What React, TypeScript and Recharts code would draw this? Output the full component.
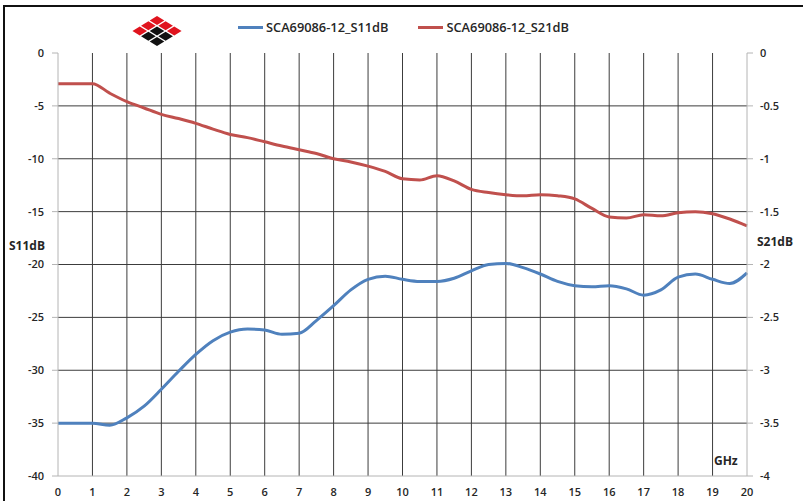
import { LineChart, Line, XAxis, YAxis, CartesianGrid } from 'recharts';

const COLORS = {
  s11: '#4F81BD',
  s21: '#C0504D',
  grid: '#3c3c3c',
  axis: '#b4b4b4',
  text: '#262626',
};

const FONT = '"Open Sans", "Liberation Sans", sans-serif';

// frequency in GHz
const freq = [
  0, 0.5, 1, 1.5, 2, 2.5, 3, 3.5, 4, 4.5, 5, 5.5, 6, 6.5, 7, 7.5, 8, 8.5, 9, 9.5, 10,
  10.5, 11, 11.5, 12, 12.5, 13, 13.5, 14, 14.5, 15, 15.5, 16, 16.5, 17, 17.5, 18, 18.5, 19, 19.5, 20,
];

// left axis, dB
const s11 = [
  -35.0, -35.0, -35.0, -35.2, -34.5, -33.4, -31.8, -30.1, -28.5, -27.2, -26.4, -26.1, -26.2, -26.6, -26.5,
  -25.3, -23.9, -22.4, -21.4, -21.1, -21.4, -21.6, -21.6, -21.3, -20.6, -20.0, -19.9, -20.3, -20.9, -21.6,
  -22.0, -22.1, -22.0, -22.3, -22.9, -22.4, -21.2, -20.9, -21.4, -21.8, -20.8,
];

// right axis, dB
const s21 = [
  -0.29, -0.29, -0.29, -0.38, -0.46, -0.52, -0.58, -0.62, -0.665, -0.72, -0.77, -0.8, -0.84, -0.88, -0.915,
  -0.95, -1.0, -1.03, -1.07, -1.12, -1.19, -1.2, -1.16, -1.21, -1.29, -1.32, -1.34, -1.35, -1.34, -1.35,
  -1.38, -1.47, -1.55, -1.56, -1.53, -1.54, -1.51, -1.5, -1.52, -1.57, -1.635,
];

const xTicks = [0, 1, 2, 3, 4, 5, 6, 7, 8, 9, 10, 11, 12, 13, 14, 15, 16, 17, 18, 19, 20];
const leftTicks = [0, -5, -10, -15, -20, -25, -30, -35, -40];
const rightTicks = [0, -0.5, -1, -1.5, -2, -2.5, -3, -3.5, -4];
const innerGrid = [-5, -10, -15, -20, -25, -30, -35];

const series = [
  { key: 's11', name: 'SCA69086-12_S11dB', color: COLORS.s11, axis: 'left' },
  { key: 's21', name: 'SCA69086-12_S21dB', color: COLORS.s21, axis: 'right' },
];

// logo: 3x3 tiles, rotated 45deg and squashed
const logoTiles = [
  ['r', 'r', 'r'],
  ['r', 'k', 'k'],
  ['r', 'k', 'k'],
];

const data = freq.map((f, i) => ({ f, s11: s11[i], s21: s21[i] }));

function Logo() {
  const s = 9;
  return (
    <svg width={50} height={32} style={{ position: 'absolute', left: 132, top: 15 }}>
      <g transform="translate(25,1) scale(1.15,0.7) rotate(45)">
        {logoTiles.map((row, r) =>
          row.map((c, k) => (
            <rect
              key={`${r}-${k}`}
              x={k * (s + 1.6)}
              y={r * (s + 1.6)}
              width={s}
              height={s}
              fill={c === 'r' ? '#e0141e' : '#111'}
            />
          ))
        )}
      </g>
    </svg>
  );
}

function ChartLegend() {
  return (
    <div style={{ position: 'absolute', left: 238, top: 18, display: 'flex', fontFamily: FONT, fontSize: 12.8, fontWeight: 600, color: COLORS.text }}>
      {series.map((s) => (
        <div key={s.key} style={{ display: 'flex', alignItems: 'center', marginRight: 30 }}>
          <span style={{ display: 'inline-block', width: 25, height: 3, background: s.color, marginRight: 3 }} />
          <span>{s.name}</span>
        </div>
      ))}
    </div>
  );
}

const axisLabel: React.CSSProperties = {
  position: 'absolute',
  fontFamily: FONT,
  fontSize: 12,
  fontWeight: 700,
  color: COLORS.text,
};

export default function App() {
  return (
    <div style={{ position: 'absolute', left: 0, top: 0, width: 803, height: 501, background: '#fff', overflow: 'hidden', fontFamily: FONT }}>
      <div style={{ position: 'absolute', left: 3, top: 5, right: -10, bottom: -10, borderTop: '2px solid #111', borderLeft: '2px solid #111' }} />
      <Logo />
      <ChartLegend />
      <LineChart
        width={803}
        height={501}
        data={data}
        margin={{ top: 53, right: 0, bottom: 0, left: 0 }}
        style={{ position: 'absolute', left: 0, top: 0 }}
      >
        <CartesianGrid
          xAxisId="x"
          yAxisId="left"
          stroke={COLORS.grid}
          horizontalValues={innerGrid}
          verticalValues={xTicks.slice(1, -1)}
        />
        <XAxis
          xAxisId="x"
          dataKey="f"
          type="number"
          domain={[0, 20]}
          ticks={xTicks}
          interval={0}
          height={25}
          tickLine={false}
          tickMargin={6}
          axisLine={{ stroke: COLORS.axis }}
          tick={{ fontSize: 11, fill: COLORS.text, fontWeight: 600 }}
        />
        <YAxis
          yAxisId="left"
          orientation="left"
          width={58}
          domain={[-40, 0]}
          ticks={leftTicks}
          interval={0}
          tickSize={6}
          tickMargin={8}
          axisLine={{ stroke: COLORS.axis }}
          tickLine={{ stroke: COLORS.axis }}
          tick={{ fontSize: 11, fill: COLORS.text, fontWeight: 600 }}
        />
        <YAxis
          yAxisId="right"
          orientation="right"
          width={56}
          domain={[-4, 0]}
          ticks={rightTicks}
          interval={0}
          tickSize={6}
          tickMargin={7}
          axisLine={{ stroke: COLORS.axis }}
          tickLine={{ stroke: COLORS.axis }}
          tick={{ fontSize: 11, fill: COLORS.text, fontWeight: 600 }}
        />
        {series.map((s) => (
          <Line
            key={s.key}
            xAxisId="x"
            yAxisId={s.axis}
            type="monotone"
            dataKey={s.key}
            name={s.name}
            stroke={s.color}
            strokeWidth={3}
            dot={false}
            activeDot={false}
            isAnimationActive={false}
          />
        ))}
      </LineChart>
      <div style={{ ...axisLabel, left: 9, top: 237 }}>S11dB</div>
      <div style={{ ...axisLabel, left: 757, top: 233 }}>S21dB</div>
      <div style={{ ...axisLabel, left: 714, top: 452 }}>GHz</div>
    </div>
  );
}
